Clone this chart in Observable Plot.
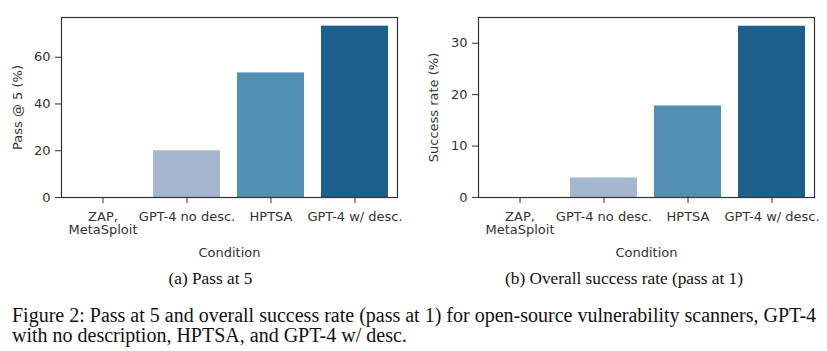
<!DOCTYPE html>
<html>
<head>
<meta charset="utf-8">
<script src="https://cdn.jsdelivr.net/npm/d3@7"></script>
<script src="https://cdn.jsdelivr.net/npm/@observablehq/plot@0.6"></script>
<style>
  html, body { margin: 0; padding: 0; background: #fff; }
  #fig { position: relative; width: 827px; height: 351px; overflow: hidden; background: #fff; }
  .panel { position: absolute; top: 0; }
  .cap { position: absolute; font-family: "Liberation Serif", "Times New Roman", serif; line-height: 20px; color: #111; white-space: nowrap; }
  .sub { font-size: 17.3px; text-align: center; top: 268.5px; }
  #figcap { font-size: 20px; left: 12px; top: 305px; }
</style>
</head>
<body>
<div id="fig">
  <div id="left" class="panel" style="left:0px"></div>
  <div id="right" class="panel" style="left:410px"></div>
  <div class="cap sub" style="left:110px; width:201px;">(a) Pass at 5</div>
  <div class="cap sub" style="left:474px; width:300px;">(b) Overall success rate (pass at 1)</div>
  <div class="cap" id="figcap">Figure 2: Pass at 5 and overall success rate (pass at 1) for open-source vulnerability scanners, GPT-4<br>with no description, HPTSA, and GPT-4 w/ desc.</div>
</div>
<script>
const conditions = ["ZAP,\nMetaSploit", "GPT-4 no desc.", "HPTSA", "GPT-4 w/ desc."];
const passAt5 = [0, 20, 53.3, 73.3];
const successRate = [0, 3.8, 17.8, 33.3];
const passTicks = [0, 20, 40, 60];
const rateTicks = [0, 10, 20, 30];
const palette = ["#d3dcec", "#a4b6d0", "#5190b3", "#1b5f8a"];

const FS = 13;

function panel(values, yMax, ticks, yLabel, width, marginLeft, labelDx) {
  const data = conditions.map((c, i) => ({condition: c, value: values[i]}));
  return Plot.plot({
    width, height: 260,
    marginLeft, marginRight: 13, marginTop: 17, marginBottom: 63,
    style: {fontFamily: "'DejaVu Sans'", fontSize: FS + "px", color: "#333", background: "transparent"},
    x: {domain: conditions, paddingInner: 0.2, paddingOuter: 0.1, label: null},
    y: {domain: [0, yMax], label: null},
    color: {domain: conditions, range: palette},
    marks: [
      Plot.barY(data, {x: "condition", y: "value", fill: "condition"}),
      Plot.frame({stroke: "#333", strokeWidth: 1.2}),
      Plot.axisX({tickSize: 6, tickPadding: 8, label: null, lineHeight: 1.03, fontSize: FS, fontFamily: "DejaVu Sans"}),
      Plot.axisY({ticks, tickSize: 6, tickPadding: 5, label: null, fontSize: FS, fontFamily: "DejaVu Sans"}),
      Plot.text(["Condition"], {text: d => d, frameAnchor: "bottom", dy: 55, lineAnchor: "middle", fontSize: FS, fontFamily: "DejaVu Sans", fill: "#333"}),
      Plot.text([yLabel], {text: d => d, frameAnchor: "left", dx: labelDx, rotate: -90, textAnchor: "middle", lineAnchor: "middle", fontSize: FS, fontFamily: "DejaVu Sans", fill: "#333"})
    ]
  });
}

document.getElementById("left").append(panel(passAt5, 77, passTicks, "Pass @ 5 (%)", 410, 61, -43.5));
document.getElementById("right").append(panel(successRate, 35, rateTicks, "Success rate (%)", 417, 68, -45));
</script>
</body>
</html>
